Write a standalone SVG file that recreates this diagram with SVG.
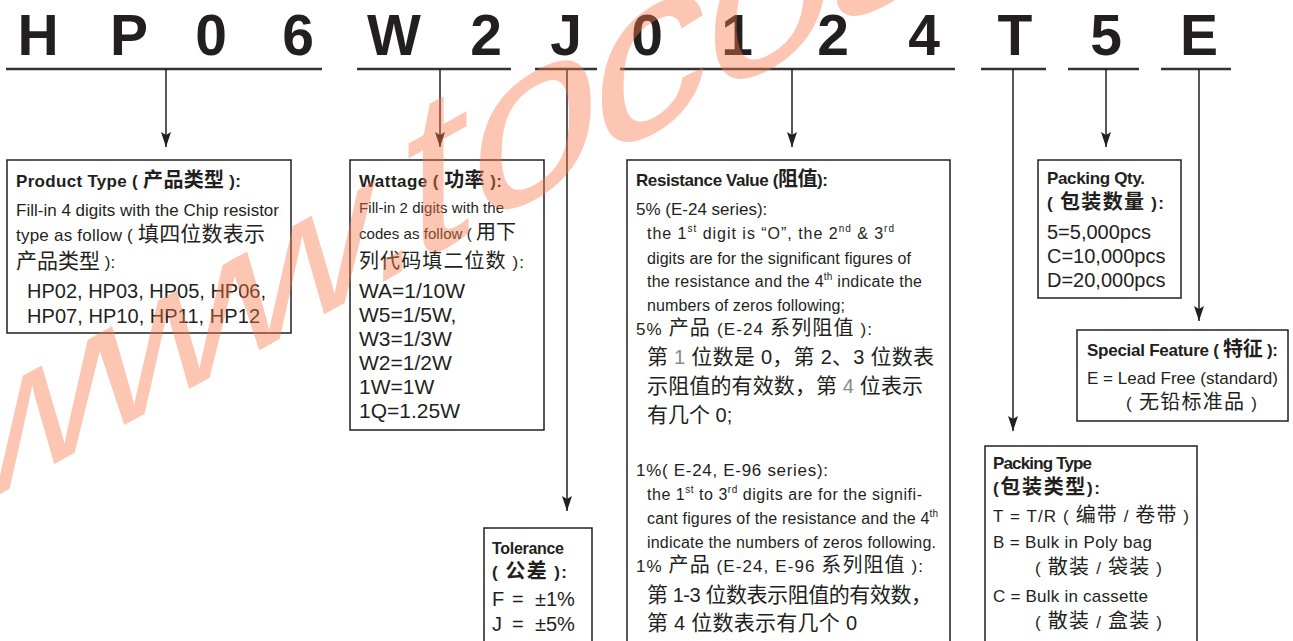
<svg xmlns="http://www.w3.org/2000/svg" width="1293" height="641" viewBox="0 0 1293 641">
<defs>
<style>
.big{font-family:"Liberation Sans",Arial,sans-serif;font-weight:bold;font-size:57px;fill:#231f20;text-anchor:middle}
.ti{font-family:"Liberation Sans","Noto Sans CJK SC",sans-serif;font-weight:bold;font-size:17px;fill:#231f20}
.tx{font-family:"Liberation Sans","Noto Sans CJK SC",sans-serif;font-size:16px;fill:#231f20}
.k{font-family:"Noto Sans CJK SC",sans-serif;font-size:20px}
.kk{font-family:"Noto Sans CJK SC",sans-serif;font-size:21px}
.box{fill:#fff;stroke:#231f20;stroke-width:1.5}
.bar{stroke:#333;stroke-width:2.5;fill:none}
.con{stroke:#231f20;stroke-width:1.5;fill:none}
.con.a{marker-end:url(#ah)}
.wm{font-family:"Liberation Sans",sans-serif;font-size:235px;fill:#f87a4a;opacity:0.42}
.g{fill:#8a8a8a}
.sup{font-size:10px}
</style>
<marker id="ah" markerUnits="userSpaceOnUse" markerWidth="16" markerHeight="10" refX="15" refY="5" orient="auto">
<path d="M0,0 L15,5 L0,10 L3,5 Z" fill="#231f20"/>
</marker>
</defs>
<rect width="1293" height="641" fill="#fff"/>

<g id="code">
<text class="big" x="38" y="55">H</text>
<text class="big" x="129" y="55">P</text>
<text class="big" x="211" y="55">0</text>
<text class="big" x="298" y="55">6</text>
<text class="big" x="394" y="55">W</text>
<text class="big" x="486" y="55">2</text>
<text class="big" x="566" y="55">J</text>
<text class="big" x="647" y="55">0</text>
<text class="big" x="737" y="55">1</text>
<text class="big" x="833" y="55">2</text>
<text class="big" x="924" y="55">4</text>
<text class="big" x="1015" y="55">T</text>
<text class="big" x="1106" y="55">5</text>
<text class="big" x="1199" y="55">E</text>
</g>

<g id="connectors">
<line class="bar" x1="6" y1="69" x2="322" y2="69"/>
<line class="bar" x1="357" y1="69" x2="511" y2="69"/>
<line class="bar" x1="535" y1="69" x2="597" y2="69"/>
<line class="bar" x1="620" y1="69" x2="955" y2="69"/>
<line class="bar" x1="981" y1="69" x2="1046" y2="69"/>
<line class="bar" x1="1068" y1="69" x2="1139" y2="69"/>
<line class="bar" x1="1161" y1="69" x2="1231" y2="69"/>
<line class="con a" x1="166" y1="69" x2="166" y2="147"/>
<line class="con a" x1="440" y1="69" x2="440" y2="147"/>
<line class="con a" x1="567" y1="69" x2="567" y2="511"/>
<line class="con a" x1="792" y1="69" x2="792" y2="147"/>
<line class="con a" x1="1013" y1="69" x2="1013" y2="431"/>
<line class="con a" x1="1106" y1="69" x2="1106" y2="147"/>
<line class="con a" x1="1199" y1="69" x2="1199" y2="321"/>
</g>

<g id="product-type">
<rect class="box" x="7" y="160" width="284" height="173"/>
<text class="ti" x="16" y="187" textLength="225" lengthAdjust="spacing">Product Type ( <tspan class="k" font-weight="bold">产品类型</tspan> ):</text>
<text class="tx" x="16" y="216" style="font-size:17px" textLength="263" lengthAdjust="spacing">Fill-in 4 digits with the Chip resistor</text>
<text class="tx" x="16" y="241" style="font-size:17px" textLength="249" lengthAdjust="spacing">type as follow ( <tspan class="kk">填四位数表示</tspan></text>
<text class="tx" x="16" y="268" style="font-size:17px"><tspan class="kk">产品类型</tspan> ):</text>
<text class="tx" x="27" y="298" style="font-size:20px" textLength="239" lengthAdjust="spacing">HP02, HP03, HP05, HP06,</text>
<text class="tx" x="27" y="323" style="font-size:20px" textLength="233" lengthAdjust="spacing">HP07, HP10, HP11, HP12</text>
</g>

<g id="wattage">
<rect class="box" x="350" y="160" width="194" height="270"/>
<text class="ti" x="359" y="187" textLength="143" lengthAdjust="spacing">Wattage ( <tspan class="k" font-weight="bold">功率</tspan> ):</text>
<text class="tx" x="359" y="213" style="font-size:15px" textLength="145" lengthAdjust="spacing">Fill-in 2 digits with the</text>
<text class="tx" x="359" y="239" style="font-size:15px" textLength="157" lengthAdjust="spacing">codes as follow ( <tspan class="k">用下</tspan></text>
<text class="tx" x="359" y="268" style="font-size:17px" textLength="165" lengthAdjust="spacing"><tspan class="k">列代码填二位数</tspan> ):</text>
<text class="tx" x="359" y="298" style="font-size:21px">WA=1/10W</text>
<text class="tx" x="359" y="322" style="font-size:21px">W5=1/5W,</text>
<text class="tx" x="359" y="346" style="font-size:21px">W3=1/3W</text>
<text class="tx" x="359" y="370" style="font-size:21px">W2=1/2W</text>
<text class="tx" x="359" y="394" style="font-size:21px">1W=1W</text>
<text class="tx" x="359" y="418" style="font-size:21px">1Q=1.25W</text>
</g>

<g id="resistance-value">
<rect class="box" x="627" y="160" width="323" height="500"/>
<text class="ti" x="636" y="186" textLength="192" lengthAdjust="spacing">Resistance Value (<tspan class="k" font-weight="bold">阻值</tspan>):</text>
<text class="tx" x="636" y="215" style="font-size:17px">5% (E-24 series):</text>
<text class="tx" x="647" y="239" textLength="247" lengthAdjust="spacing">the 1<tspan class="sup" dy="-7">st</tspan><tspan dy="7"> digit is “O”, the 2</tspan><tspan class="sup" dy="-7">nd</tspan><tspan dy="7"> &amp; 3</tspan><tspan class="sup" dy="-7">rd</tspan></text>
<text class="tx" x="647" y="264" textLength="264" lengthAdjust="spacing">digits are for the significant figures of</text>
<text class="tx" x="647" y="287" textLength="275" lengthAdjust="spacing">the resistance and the 4<tspan class="sup" dy="-7">th</tspan><tspan dy="7"> indicate the</tspan></text>
<text class="tx" x="647" y="311" textLength="198" lengthAdjust="spacing">numbers of zeros following;</text>
<text class="tx" x="636" y="335" style="font-size:17px" textLength="236" lengthAdjust="spacing">5% <tspan class="k">产品</tspan> (E-24 <tspan class="k">系列阻值</tspan> ):</text>
<text class="tx" x="647" y="364" style="font-size:20px" textLength="287" lengthAdjust="spacing"><tspan class="kk">第</tspan> <tspan class="g">1</tspan> <tspan class="kk">位数是</tspan> 0<tspan class="kk">，第</tspan> 2<tspan class="kk">、</tspan>3 <tspan class="kk">位数表</tspan></text>
<text class="tx" x="647" y="393" style="font-size:20px" textLength="276" lengthAdjust="spacing"><tspan class="kk">示阻值的有效数，第</tspan> <tspan class="g">4</tspan> <tspan class="kk">位表示</tspan></text>
<text class="tx" x="647" y="422" style="font-size:20px"><tspan class="kk">有几个</tspan> 0;</text>
<text class="tx" x="636" y="476" style="font-size:17px" textLength="192" lengthAdjust="spacing">1%( E-24, E-96 series):</text>
<text class="tx" x="647" y="500" textLength="275" lengthAdjust="spacing">the 1<tspan class="sup" dy="-7">st</tspan><tspan dy="7"> to 3</tspan><tspan class="sup" dy="-7">rd</tspan><tspan dy="7"> digits are for the signifi-</tspan></text>
<text class="tx" x="647" y="524" textLength="291" lengthAdjust="spacing">cant figures of the resistance and the 4<tspan class="sup" dy="-7">th</tspan></text>
<text class="tx" x="647" y="548" textLength="289" lengthAdjust="spacing">indicate the numbers of zeros following.</text>
<text class="tx" x="636" y="572" style="font-size:17px" textLength="287" lengthAdjust="spacing">1% <tspan class="k">产品</tspan> (E-24, E-96 <tspan class="k">系列阻值</tspan> ):</text>
<text class="tx" x="647" y="602" style="font-size:20px" textLength="285" lengthAdjust="spacing"><tspan class="kk">第</tspan> 1-3 <tspan class="kk">位数表示阻值的有效数，</tspan></text>
<text class="tx" x="647" y="630" style="font-size:20px" textLength="210" lengthAdjust="spacing"><tspan class="kk">第</tspan> 4 <tspan class="kk">位数表示有几个</tspan> 0</text>
</g>

<g id="tolerance">
<rect class="box" x="484" y="528" width="108" height="200"/>
<text class="ti" x="492" y="554" style="font-size:16px" textLength="72" lengthAdjust="spacing">Tolerance</text>
<text class="ti" x="492" y="578" textLength="75" lengthAdjust="spacing">( <tspan class="k" font-weight="bold">公差</tspan> ):</text>
<text class="tx" x="492" y="606" style="font-size:20px">F<tspan x="512">=</tspan><tspan x="535">±1%</tspan></text>
<text class="tx" x="492" y="631" style="font-size:20px">J<tspan x="512">=</tspan><tspan x="535">±5%</tspan></text>
</g>

<g id="packing-qty">
<rect class="box" x="1038" y="160" width="143" height="138"/>
<text class="ti" x="1047" y="184" textLength="98" lengthAdjust="spacing">Packing Qty.</text>
<text class="ti" x="1047" y="209" textLength="117" lengthAdjust="spacing">( <tspan class="k" font-weight="bold">包装数量</tspan> ):</text>
<text class="tx" x="1047" y="239" style="font-size:20px">5=5,000pcs</text>
<text class="tx" x="1047" y="263" style="font-size:20px">C=10,000pcs</text>
<text class="tx" x="1047" y="287" style="font-size:20px">D=20,000pcs</text>
</g>

<g id="special-feature">
<rect class="box" x="1077" y="330" width="211" height="91"/>
<text class="ti" x="1087" y="356" textLength="191" lengthAdjust="spacing">Special Feature ( <tspan class="k" font-weight="bold">特征</tspan> ):</text>
<text class="tx" x="1087" y="384" style="font-size:17px" textLength="191" lengthAdjust="spacing">E = Lead Free (standard)</text>
<text class="tx" x="1126" y="409" style="font-size:17px" textLength="131" lengthAdjust="spacing">( <tspan class="k">无铅标准品</tspan> )</text>
</g>

<g id="packing-type">
<rect class="box" x="985" y="446" width="212" height="300"/>
<text class="ti" x="993" y="469" textLength="99" lengthAdjust="spacing">Packing Type</text>
<text class="ti" x="993" y="494" textLength="107" lengthAdjust="spacing">(<tspan class="k" font-weight="bold">包装类型</tspan>):</text>
<text class="tx" x="993" y="522" style="font-size:17px" textLength="196" lengthAdjust="spacing">T = T/R ( <tspan class="k">编带</tspan> / <tspan class="k">卷带</tspan> )</text>
<text class="tx" x="993" y="548" style="font-size:17px" textLength="159" lengthAdjust="spacing">B = Bulk in Poly bag</text>
<text class="tx" x="1035" y="574" style="font-size:17px" textLength="127" lengthAdjust="spacing">( <tspan class="k">散装</tspan> / <tspan class="k">袋装</tspan> )</text>
<text class="tx" x="993" y="602" style="font-size:17px" textLength="155" lengthAdjust="spacing">C = Bulk in cassette</text>
<text class="tx" x="1035" y="628" style="font-size:17px" textLength="127" lengthAdjust="spacing">( <tspan class="k">散装</tspan> / <tspan class="k">盒装</tspan> )</text>
</g>

<g id="watermark">
<text class="wm" transform="translate(0,494) skewY(-29)"><tspan style="font-size:200px" x="-40 95 230 365">www.</tspan><tspan x="405 470 592 705 830">tocos</tspan></text>
</g>
</svg>
